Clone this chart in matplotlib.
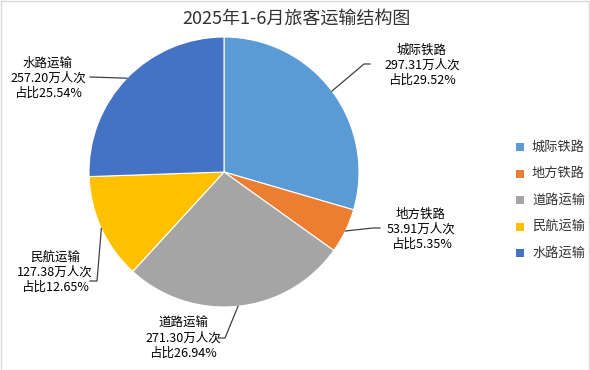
import numpy as np
import matplotlib
matplotlib.use("Agg")
from matplotlib import pyplot as plt
from matplotlib.patches import Rectangle

plt.rcParams['font.family'] = ['Noto Sans CJK SC', 'DejaVu Sans']

categories = ['城际铁路', '地方铁路', '道路运输', '民航运输', '水路运输']
values = [297.31, 53.91, 271.30, 127.38, 257.20]
shares = ['29.52%', '5.35%', '26.94%', '12.65%', '25.54%']
colors = ['#5B9BD5', '#ED7D31', '#A5A5A5', '#FFC000', '#4472C4']

W, H = 590, 370
fig = plt.figure(figsize=(W / 100, H / 100), dpi=100)

# pie centre (224,172) px, radius 135 px
cx, cy, r = 224, 172, 135
ax = fig.add_axes([(cx - r) / W, (H - cy - r) / H, 2 * r / W, 2 * r / H])
wedges, _ = ax.pie(values, colors=colors, startangle=90, counterclock=False,
                   radius=1, wedgeprops=dict(edgecolor='white', linewidth=0.8))
ax.set_xlim(-1, 1)
ax.set_ylim(-1, 1)
ax.set_aspect('equal')
ax.axis('off')

fig.text(297 / W, 1 - 19 / H, '2025年1-6月旅客运输结构图', ha='center', va='center',
         fontsize=13, color='#333333')

# label centre (px) and elbow / tail of leader line (px)
label_pos = [(422, 65), (421, 229), (183, 338), (55, 272), (48, 78)]
elbows = [((364, 64), (370, 64)), ((373, 228), (380, 228)), ((225, 338), (218, 338)),
          ((97, 281), (90, 281)), ((90, 77), (90, 77))]

total = sum(values)
start = 90.0
for i, v in enumerate(values):
    sweep = v / total * 360
    mid = np.deg2rad(start - sweep / 2)
    start -= sweep
    ex = cx + r * np.cos(mid)
    ey = cy - r * np.sin(mid)
    (bx, by), (tx, ty) = elbows[i]
    xs = np.array([ex, bx, tx]) / W
    ys = 1 - np.array([ey, by, ty]) / H
    fig.add_artist(plt.Line2D(xs, ys, color='#404040', linewidth=0.9,
                              transform=fig.transFigure))
    lx, ly = label_pos[i]
    fig.text(lx / W, 1 - ly / H,
             f'{categories[i]}\n{values[i]:.2f}万人次\n占比{shares[i]}',
             ha='center', va='center', fontsize=9, linespacing=1.2, color='black')

# legend
for i, c in enumerate(categories):
    y = 147 + i * 26.5
    fig.add_artist(Rectangle((516 / W, 1 - (y + 4) / H), 8 / W, 8 / H,
                             facecolor=colors[i], edgecolor='none',
                             transform=fig.transFigure))
    fig.text(532 / W, 1 - y / H, c, ha='left', va='center', fontsize=9.5, color='#333333')

fig.add_artist(Rectangle((0.5 / W, 0.5 / H), 1 - 1.5 / W, 1 - 1.5 / H, fill=False,
                         edgecolor='#D9D9D9', linewidth=1, transform=fig.transFigure))

fig.savefig('out.png', dpi=100)
